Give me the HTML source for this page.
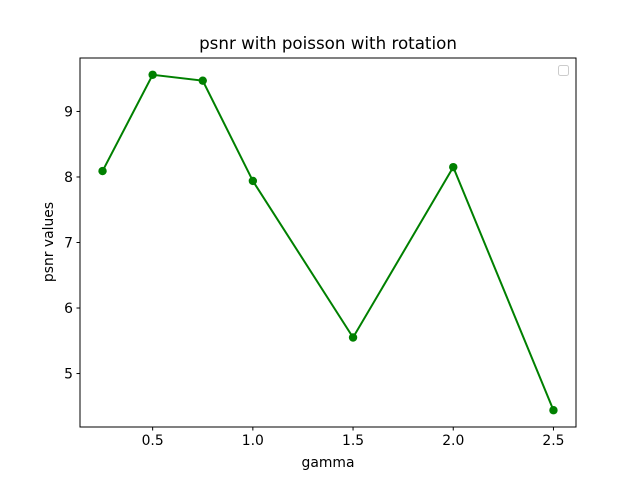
<!DOCTYPE html>
<html><head><meta charset="utf-8"><style>
body{margin:0;background:#fff;}
svg text{font-family:"DejaVu Sans","Liberation Sans",sans-serif;}
</style></head><body>
<svg id="chart" width="640" height="480" viewBox="0 0 640 480" xmlns="http://www.w3.org/2000/svg">
<rect width="640" height="480" fill="#fff"/>
<text x="328" y="49" font-size="16.7" text-anchor="middle">psnr with poisson with rotation</text>
<text x="328" y="467" font-size="13.9" text-anchor="middle">gamma</text>
<text transform="translate(53,242) rotate(-90)" font-size="13.9" text-anchor="middle">psnr values</text>
<g id="ticks"></g>
<g id="series"></g>
<rect x="80" y="58" width="496" height="369" fill="none" stroke="#000" stroke-width="1"/>
<rect x="558.5" y="65.5" width="10" height="10" rx="2" fill="#fff" stroke="#ccc"/>
</svg>
<script>
const gammas=[0.25,0.5,0.75,1.0,1.5,2.0,2.5];
const psnr=[8.09,9.56,9.47,7.94,5.55,8.15,4.44];
const xTicks=[0.5,1.0,1.5,2.0,2.5];
const xTickLabels=["0.5","1.0","1.5","2.0","2.5"];
const yTicks=[5,6,7,8,9];
const yTickLabels=["5","6","7","8","9"];

const NS="http://www.w3.org/2000/svg";
const L=80,R=576,T=58,B=427;
const xmin=Math.min(...gammas),xmax=Math.max(...gammas),xp=(xmax-xmin)*0.05;
const ymin=Math.min(...psnr),ymax=Math.max(...psnr),yp=(ymax-ymin)*0.05;
const sx=v=>L+(v-(xmin-xp))/((xmax+xp)-(xmin-xp))*(R-L);
const sy=v=>B-(v-(ymin-yp))/((ymax+yp)-(ymin-yp))*(B-T);
function mk(t,a,p){const e=document.createElementNS(NS,t);for(const k in a)e.setAttribute(k,a[k]);p.appendChild(e);return e;}
const tg=document.getElementById('ticks');
xTicks.forEach((v,i)=>{
  const l=mk('line',{x1:sx(v),x2:sx(v),y1:B,y2:B+3.5,stroke:'#000'},tg);
  
  
  const t=mk('text',{x:sx(v),y:B+18,'font-size':'13.9','text-anchor':'middle'},tg);
  t.textContent=xTickLabels[i];
  
  
});
yTicks.forEach((v,i)=>{
  const l=mk('line',{x1:L-3.5,x2:L,y1:sy(v),y2:sy(v),stroke:'#000'},tg);
  
  
  const t=mk('text',{x:L-7,y:sy(v)+5,'font-size':'13.9','text-anchor':'end'},tg);
  t.textContent=yTickLabels[i];
  
  
});
const sg=document.getElementById('series');
const pl=mk('polyline',{points:gammas.map((g,i)=>sx(g)+','+sy(psnr[i])).join(' '),fill:'none',stroke:'#008000','stroke-width':'2'},sg);


gammas.forEach((g,i)=>{
  const c=mk('circle',{cx:sx(g),cy:sy(psnr[i]),r:4.2,fill:'#008000'},sg);
  
  
});
</script>
</body></html>
